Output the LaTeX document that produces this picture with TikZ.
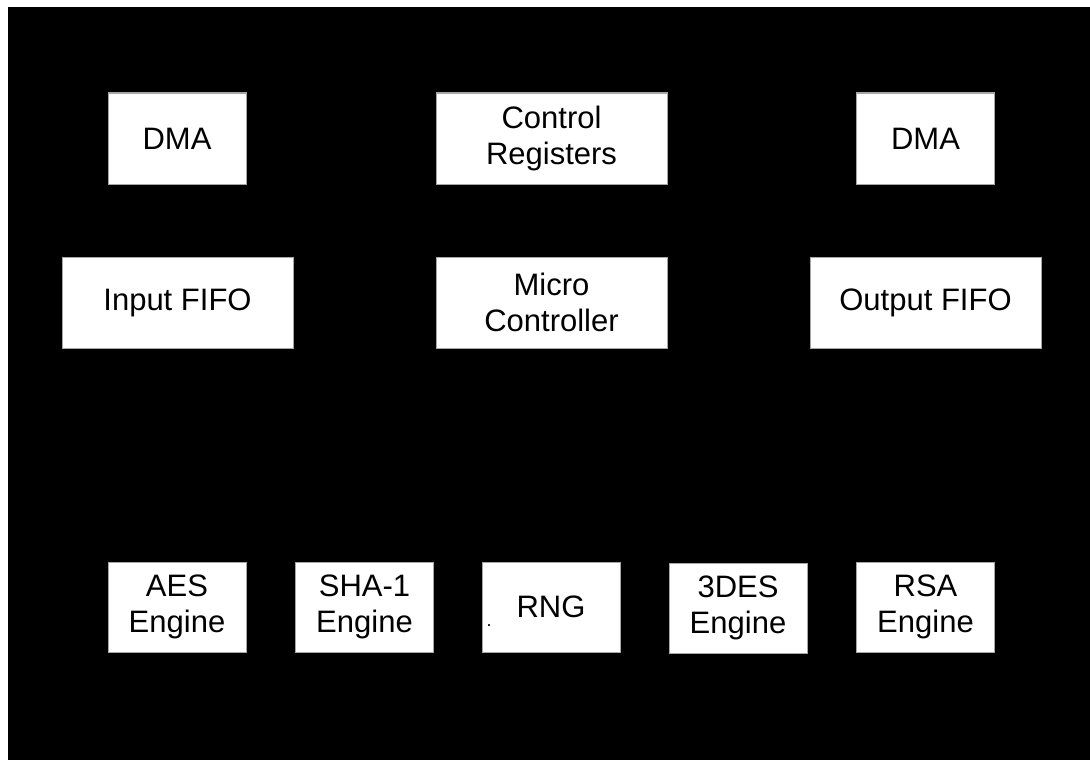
\documentclass[tikz,border=0pt]{standalone}
\usepackage{fontspec}
\setmainfont{Liberation Sans}
\begin{document}
\begin{tikzpicture}[x=1pt,y=-1pt,
  blk/.style={draw=gray!70,line width=1pt,fill=white,inner sep=0pt,align=center,
    font=\fontsize{31}{36}\selectfont,text=black},
  wide/.style={blk,minimum width=231pt,minimum height=91pt},
  narrow/.style={blk,minimum width=138pt,minimum height=90pt}]
\useasboundingbox (0,0) rectangle (1090,760);
\fill[white] (0,0) rectangle (1090,760);
\fill[black] (8,7) rectangle (1090,760);
% top row
\node[narrow,minimum height=91pt] (dmain) at (177,138.5) {DMA};
\node[wide] (ctrl) at (551.5,138.5) {Control\\Registers};
\node[narrow,minimum height=91pt] (dmaout) at (925.5,138.5) {DMA};
% middle row
\node[wide] (infifo) at (177.5,302.5) {Input FIFO};
\node[wide] (micro) at (551.5,302.5) {Micro\\Controller};
\node[wide] (outfifo) at (925.5,302.5) {Output FIFO};
% bottom row
\node[narrow] (aes) at (177,607) {AES\\Engine};
\node[narrow] (sha) at (364.5,607) {SHA-1\\Engine};
\node[narrow] (rng) at (551,607) {RNG};
\node[narrow] (des) at (738,608) {3DES\\Engine};
\node[narrow] (rsa) at (925.5,607) {RSA\\Engine};
\node[font=\fontsize{18}{18}\selectfont,inner sep=0pt] (dot) at (489,626) {.};
\end{tikzpicture}
\end{document}
